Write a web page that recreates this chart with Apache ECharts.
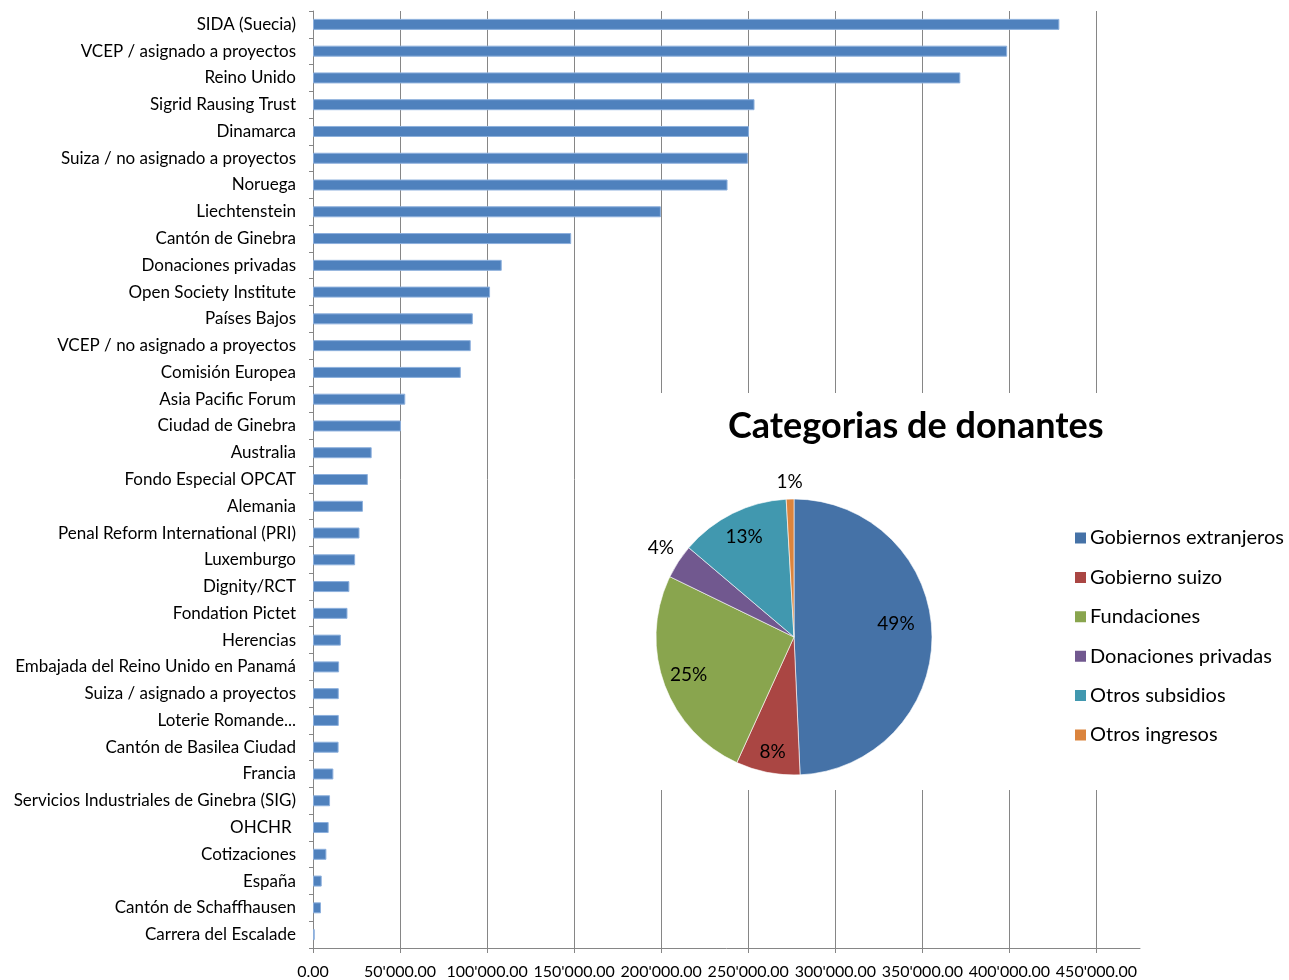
<!DOCTYPE html>
<html>
<head>
<meta charset="utf-8">
<script src="https://cdn.jsdelivr.net/npm/echarts@6/dist/echarts.min.js"></script>
<style>
  html, body { margin: 0; padding: 0; background: #fff; }
  #chart { width: 1289px; height: 980px; }
</style>
</head>
<body>
<div id="chart"></div>
<script>
// Donors (top to bottom)
const donors = [
  "SIDA (Suecia)", "VCEP / asignado a proyectos", "Reino Unido", "Sigrid Rausing Trust",
  "Dinamarca", "Suiza / no asignado a proyectos", "Noruega", "Liechtenstein",
  "Cantón de Ginebra", "Donaciones privadas", "Open Society Institute", "Países Bajos",
  "VCEP / no asignado a proyectos", "Comisión Europea", "Asia Pacific Forum", "Ciudad de Ginebra",
  "Australia", "Fondo Especial OPCAT", "Alemania", "Penal Reform International (PRI)",
  "Luxemburgo", "Dignity/RCT", "Fondation Pictet", "Herencias",
  "Embajada del Reino Unido en Panamá", "Suiza / asignado a proyectos", "Loterie Romande...", "Cantón de Basilea Ciudad",
  "Francia", "Servicios Industriales de Ginebra (SIG)", "OHCHR ", "Cotizaciones",
  "España", "Cantón de Schaffhausen", "Carrera del Escalade"
];
const amounts = [
  428700, 398700, 371800, 253600,
  250400, 249800, 238100, 199800,
  148300, 108400, 101700, 91800,
  90600, 84900, 53000, 50500,
  33700, 31500, 28700, 26700,
  24200, 20900, 19800, 16000,
  15000, 14800, 14800, 14700,
  11700, 9800, 9000, 7700,
  5000, 4600, 1000
];

// Donor categories (pie)
const categories = [
  "Gobiernos extranjeros", "Gobierno suizo", "Fundaciones",
  "Donaciones privadas", "Otros subsidios", "Otros ingresos"
];
const shares = [49.3, 7.5, 25.4, 4.0, 12.9, 0.9];
const catColors = ["#4572A7", "#AA4643", "#89A54E", "#71588F", "#4198AF", "#DB843D"];
// slices whose label sits outside the pie
const outsideLabels = ["Donaciones privadas", "Otros ingresos"];
// small nudges to match Excel's best-fit label placement
const labelNudge = {
  "Gobiernos extranjeros": [-10, -11],
  "Gobierno suizo": [0, 5],
  "Donaciones privadas": [9, -8],
  "Otros ingresos": [18, -7]
};

const FONT = "Lato";
const chart = echarts.init(document.getElementById("chart"));

function fmtMoney(v) {
  if (v === 0) return "0.00";
  const s = String(Math.round(v));
  return s.replace(/\B(?=(\d{3})+(?!\d))/g, "'") + ".00";
}

const pieData = categories.map((name, i) => ({
  name: name,
  value: shares[i],
  itemStyle: { color: catColors[i] }
}));

const labelData = categories.map((name, i) => {
  const item = { name: name, value: shares[i], label: {} };
  if (outsideLabels.includes(name)) {
    item.label.position = "outside";
    item.labelLine = { show: false, length: 10, length2: 0 };
  }
  if (labelNudge[name]) item.label.offset = labelNudge[name];
  return item;
});

const option = {
  animation: false,
  backgroundColor: "#fff",
  textStyle: { fontFamily: FONT },
  title: {
    text: "Categorias de donantes",
    left: 723,
    top: 403,
    z: 20,
    textStyle: { fontFamily: FONT, fontSize: 36, fontWeight: "bold", color: "#000" }
  },
  legend: {
    orient: "vertical",
    left: 1073,
    top: 528,
    padding: 0,
    itemWidth: 13,
    itemHeight: 13,
    itemGap: 19.4,
    icon: "rect",
    z: 20,
    data: categories,
    textStyle: { fontFamily: FONT, fontSize: 20, color: "#000", padding: [0, 0, 0, -2] }
  },
  grid: { left: 313, right: 149, top: 11, bottom: 32 },
  xAxis: {
    type: "value",
    min: 0,
    max: 475000,
    interval: 50000,
    axisLine: { show: true, lineStyle: { color: "#868686" } },
    axisTick: { show: true, length: 5, lineStyle: { color: "#868686" } },
    splitLine: { show: true, showMaxLine: false, lineStyle: { color: "#868686", width: 1 } },
    axisLabel: {
      color: "#000",
      fontSize: 16,
      fontFamily: FONT,
      margin: 16,
      showMaxLabel: false,
      formatter: v => (v > 450000 ? "" : fmtMoney(v))
    }
  },
  yAxis: {
    type: "category",
    inverse: true,
    data: donors,
    axisLine: { show: true, lineStyle: { color: "#868686" } },
    axisTick: { show: true, length: 4, lineStyle: { color: "#868686" } },
    axisLabel: { color: "#000", fontSize: 17, fontFamily: FONT, margin: 17 }
  },
  graphic: [
    {
      type: "rect",
      left: 592,
      top: 393,
      shape: { width: 697, height: 397 },
      style: { fill: "#fff" },
      z: 10,
      silent: true
    }
  ],
  series: [
    {
      type: "bar",
      data: amounts,
      barWidth: 11,
      z: 2,
      itemStyle: { color: "#4F81BD", borderColor: "#8DB0DD", borderWidth: 1 }
    },
    {
      type: "pie",
      center: [794, 637],
      radius: [0, 138],
      startAngle: 90,
      clockwise: true,
      z: 20,
      label: { show: false },
      labelLine: { show: false },
      itemStyle: { borderColor: "#fff", borderWidth: 0.6 },
      data: pieData
    },
    {
      // carries the percentage labels at ~0.78 r
      type: "pie",
      center: [794, 637],
      radius: [80, 138],
      startAngle: 90,
      clockwise: true,
      z: 21,
      silent: true,
      avoidLabelOverlap: false,
      itemStyle: { color: "rgba(0,0,0,0)" },
      label: {
        show: true,
        position: "inside",
        color: "#000",
        fontFamily: FONT,
        fontSize: 19,
        formatter: p => Math.round(p.value) + "%"
      },
      labelLine: { show: false },
      data: labelData
    }
  ]
};

chart.setOption(option);
</script>
</body>
</html>
